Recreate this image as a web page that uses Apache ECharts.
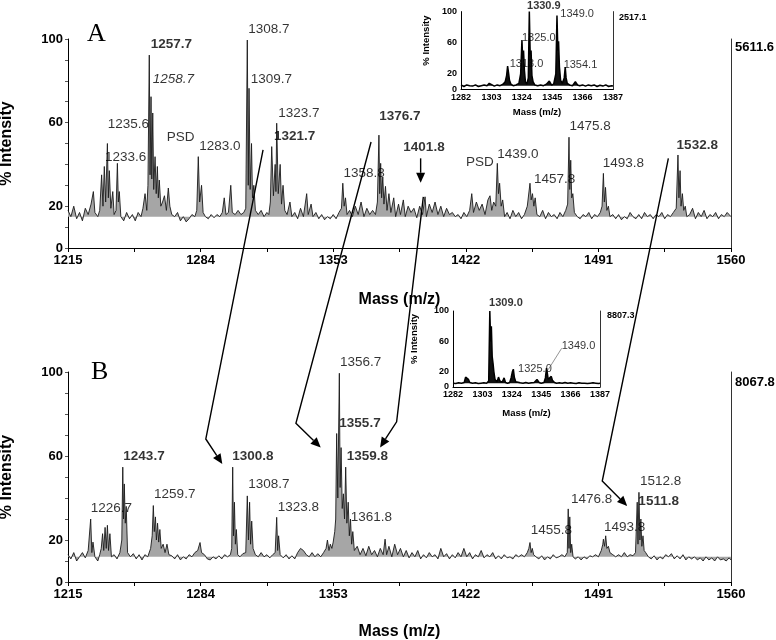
<!DOCTYPE html>
<html><head><meta charset="utf-8">
<script src="https://cdn.jsdelivr.net/npm/echarts@6/dist/echarts.min.js"></script>
<style>html,body{margin:0;padding:0;background:#fff}#c{width:776px;height:640px}</style>
</head><body><div id="c"></div>
<script>
// ---------- tick labels ----------
const mainMassLabels = [1215, 1284, 1353, 1422, 1491, 1560];
const mainMassTicks = [1215, 1249.5, 1284, 1318.5, 1353, 1387.5, 1422, 1456.5, 1491, 1525.5, 1560];
const mainIntLabels = [0, 20, 60, 100];
const mainIntTicks = [0, 10, 20, 30, 40, 50, 60, 70, 80, 90, 100];
const insetMassLabels = [1282, 1303, 1324, 1345, 1366, 1387];
const insetIntLabels = [0, 20, 60, 100];
const totalCountA = '5611.6', totalCountB = '8067.8', totalCountInsetA = '2517.1', totalCountInsetB = '8807.3';
const baselineA = 15, baselineB = 12, baselineInset = 5;

// ---------- spectra [mass, % intensity] ----------
const spectrumA = [
[1215,18],[1216.5,15],[1218,20],[1219.5,14],[1221,17],[1222.5,13],[1224,19],[1225.5,16],[1227,21],[1228.2,27],
[1229,17],[1230.5,15],[1231.5,18],[1232.5,35],[1233.2,20],[1233.9,39],[1234.6,22],[1235.5,50],[1236,24],[1236.5,37],
[1237.3,19],[1238.3,27],[1239,16],[1240,18],[1240.7,40.5],[1241.2,22],[1241.7,27],[1242.5,15],[1244,13],[1245.5,17],
[1247,14],[1248.5,16],[1250,13],[1251.5,17],[1253,15],[1254,19],[1255.1,26],[1256,18],[1256.6,30],[1257.3,92.3],
[1257.7,35],[1258.2,72.4],[1258.6,33],[1259.1,64.6],[1259.6,28],[1260.3,43.7],[1260.9,26],[1261.5,39],[1262,24],[1262.5,32.5],
[1263.3,20],[1264.2,22],[1265.2,25],[1266.2,18],[1267.2,28.7],[1268,20],[1269,16],[1270.5,15],[1272,17],[1273.5,13],
[1275,15],[1276.5,12.5],[1278,14],[1279.5,16],[1281,15],[1282,18],[1282.8,43.7],[1283.5,22],[1284.5,30],[1285.3,17],
[1286.5,15],[1288,14],[1289.5,16],[1291,14.5],[1292.5,16],[1294,15],[1295.3,17],[1296.3,24],[1297.2,16],[1298.5,17],
[1299.7,30],[1300.5,17],[1302,16],[1303.5,18],[1305,16],[1306.5,17],[1307.5,19],[1308.3,99.5],[1308.8,30],[1309.2,76.4],
[1309.8,28],[1310.5,50],[1311,24],[1311.7,30],[1312.5,18],[1314,16],[1315.5,18],[1317,15],[1318.5,17],[1319.5,16],
[1320.3,22],[1321,48.5],[1321.9,25],[1322.8,40],[1323.2,27],[1323.6,59.7],[1324.4,26],[1325.4,40],[1326.1,21],[1326.9,30],
[1327.8,18],[1329,16],[1330.5,22],[1331.5,15],[1333,17],[1334.5,14],[1336,19],[1337.5,15],[1339.2,26],[1340,16],
[1341.5,21],[1342.5,15],[1344,17],[1345.5,14],[1347,16],[1348.5,13.5],[1350,15],[1351.5,14],[1353,16],[1354.5,14],
[1356,17],[1357.3,19],[1358,31],[1358.7,20],[1359.4,24],[1360.2,16],[1361.5,18],[1363,15],[1364.5,20],[1366,16],
[1367.5,22],[1369,15],[1370.5,19],[1372,16],[1373.5,18],[1375,16],[1376,22],[1376.8,54],[1377.2,26],[1377.7,40.5],
[1378.2,24],[1378.8,34],[1379.4,21],[1380.2,29.5],[1381,18],[1382,26],[1383,17],[1384.5,24],[1385.5,15],[1387,21],
[1388,16],[1389.5,23],[1390.5,15],[1392,20],[1393.5,17],[1395,19],[1396.5,14.5],[1398,20],[1399.5,16],[1400.8,24.5],
[1401.5,15],[1403,21],[1404.5,17],[1406,22],[1407.5,16],[1409,20],[1410.5,15],[1412,19],[1413.5,16],[1415,17],
[1416.5,15],[1418,16],[1419.5,14],[1421,17],[1422.5,15],[1424,18],[1425.1,26],[1426,17],[1427.5,22],[1429,18],
[1430.5,21],[1432,16],[1433.5,23],[1434.6,25],[1435.5,18],[1436.5,22],[1437.6,20],[1438.4,40.5],[1439,26],[1439.6,31],
[1440.4,20],[1441.2,23],[1442.2,15],[1443.5,17],[1445,14],[1446.5,18],[1448,15],[1449.5,17],[1451,14],[1452.5,16],
[1454,20],[1455.4,31],[1456,23],[1456.7,26],[1457.4,20],[1458.1,24],[1459,16],[1460.5,15],[1462,18],[1463.5,14],
[1465,17],[1466.5,15],[1468,16],[1469.5,14],[1471,17],[1472.5,15],[1474,18],[1475,21],[1475.7,53],[1476.1,28],
[1476.6,42],[1477.1,24],[1477.7,26],[1478.5,17],[1480,15],[1481.5,14],[1483,16],[1484.5,15],[1486,17],[1487.5,14],
[1489,16],[1490.5,15],[1492,17],[1492.9,20],[1493.6,35.7],[1494.1,22],[1494.7,29],[1495.4,18],[1496.2,20],[1497,15],
[1498.5,16],[1500,14],[1501.5,16],[1503,13.5],[1504.5,15],[1506,14],[1507.5,17],[1509,15],[1510.5,14],[1512,16],
[1513.5,14],[1515,17],[1516.5,15],[1518,16],[1519.5,14],[1521,16],[1522.5,15],[1524,17],[1525.5,14],[1527,16],
[1528.5,15],[1530,17],[1531.5,19],[1532.4,44.5],[1532.9,24],[1533.5,37],[1534,20],[1534.7,26],[1535.4,18],[1536.2,20],
[1537,15],[1538.5,16],[1540,19],[1541.5,14],[1543,17],[1544.5,15],[1546,18],[1547.5,14],[1549,16],[1550.5,15],
[1552,17],[1553.5,14],[1555,16],[1556.5,15],[1558,17],[1559,16],[1560,15]
];
const spectrumB = [
[1215,13],[1216.5,11],[1218,14],[1219.5,10],[1221,12],[1222.5,14],[1224,11.5],[1225.5,15],[1226.8,30],[1227.4,14],
[1228,19],[1229,12],[1230.5,10],[1231.5,13],[1232.3,16],[1233,23],[1233.6,15],[1234.3,26],[1234.9,16],[1235.5,27],
[1236.1,15],[1236.8,23],[1237.6,12],[1239,13],[1240.5,11],[1242,14],[1243,20],[1243.5,54.7],[1243.9,30],[1244.3,46.7],
[1244.8,28],[1245.3,36],[1246,14],[1247.5,12],[1249,13.5],[1250.5,11],[1252,13],[1253.5,10.5],[1255,13],[1256.5,12],
[1258,16],[1258.8,22],[1259.4,36.4],[1259.9,24],[1260.5,31],[1261,20],[1261.6,28],[1262.2,19],[1262.8,25],[1263.5,16],
[1264.5,18],[1265.5,14],[1266.5,18],[1267.5,13],[1269,12.5],[1270.5,11],[1272,13],[1273.5,10.5],[1275,12],[1276.5,11],
[1278,13],[1279.5,12],[1281,14],[1282.5,15],[1283.7,18.8],[1284.5,14],[1286,13],[1287.5,11],[1289,10.5],[1290.5,12],
[1292,11],[1293.5,12.5],[1295,11],[1296.5,13],[1298,12],[1299.5,13],[1300.2,16],[1300.7,54.7],[1301.1,22],[1301.6,38],
[1302.1,18],[1302.6,25],[1303.3,13],[1304.5,12],[1306,13.5],[1307.5,14],[1308.3,41],[1308.9,20],[1309.5,38],[1310,18],
[1310.6,29],[1311.3,16],[1312.5,13],[1314,12],[1315.5,14],[1317,12],[1318.5,13],[1320,11.5],[1321.5,13],[1322.8,14],
[1323.6,30.8],[1324.1,15],[1324.6,22],[1325.4,13],[1327,11.5],[1328.5,13],[1330,11],[1331.5,12.5],[1333,11],[1334.5,14],
[1336,16],[1337.5,15],[1339,13],[1340.5,12],[1342,14],[1343.5,12],[1345,13.5],[1346.5,12],[1348,14],[1349.3,16],
[1350,20],[1350.8,15],[1351.5,18],[1352.3,16],[1353,19],[1353.8,24],[1354.3,30],[1354.8,70.7],[1355.4,40],[1356.2,99.4],
[1356.6,45],[1357.1,64],[1357.7,35],[1358.3,42],[1358.9,30],[1359.5,54.7],[1360.1,28],[1360.8,38],[1361.4,22],[1362,30],
[1362.6,18],[1363.2,24],[1364,15],[1365.5,17],[1367,13],[1368.5,16],[1370,12.5],[1371.5,17],[1373,13],[1374.5,15],
[1376,12],[1377.5,16],[1379,13],[1380,20.4],[1380.8,13],[1382,17],[1383.5,12],[1385,18],[1386.5,13],[1388,16],
[1389.5,12],[1391,15],[1392.5,11.5],[1394,14],[1395.5,12],[1397,15],[1398.5,11],[1400,13],[1401.5,11.5],[1403,14],
[1404.5,12],[1406,13],[1407.5,11],[1409,16],[1410.5,12],[1412,13.5],[1413.5,11],[1415,13],[1416.5,11.5],[1418,14],
[1419.5,12],[1421,16],[1422.5,12],[1424,14],[1425.5,11],[1427,13],[1428.5,12],[1430,15],[1431.5,11.5],[1433,13],
[1434.5,12],[1436,14],[1437.5,11],[1439,12.5],[1440.5,11],[1442,13],[1443.5,11.5],[1445,12],[1446.5,11],[1448,13],
[1449.5,12],[1451,13],[1452.5,12],[1454,14],[1454.8,16],[1455.4,18.8],[1456,14],[1456.6,16],[1457.3,13],[1458.5,12],
[1460,11],[1461.5,12.5],[1463,10.5],[1464.5,12],[1466,11],[1467.5,13],[1469,11.5],[1470.5,12],[1472,13],[1473.5,12],
[1474.8,14],[1475.3,34.8],[1475.7,16],[1476.1,31],[1476.6,14],[1477.1,18],[1477.8,12],[1479,11],[1480.5,12],[1482,10.5],
[1483.5,12],[1485,11],[1486.5,12.5],[1488,12],[1489.5,13],[1491,12],[1492.5,15],[1493.3,18],[1493.6,20.4],[1494.2,17],
[1494.8,22],[1495.4,16],[1496.2,17],[1497,14],[1498.5,13],[1500,12],[1501.5,13],[1503,12],[1504.5,14],[1506,12],
[1507.5,13],[1509,12.5],[1510.3,14],[1511.2,38],[1511.6,18],[1512.1,42.7],[1512.6,20],[1513.1,30],[1513.6,17],[1514.2,22],
[1514.8,15],[1515.6,14],[1517,12],[1518.5,11],[1520,12.5],[1521.5,10.5],[1523,12],[1524.5,11],[1526,13],[1527.5,12],
[1529,13.5],[1530.5,11],[1532,12.5],[1533.5,11],[1535,13],[1536.5,10.5],[1538,12],[1539.5,11],[1541,12],[1542.5,10.5],
[1544,11.5],[1545.5,10],[1547,12],[1548.5,10.5],[1550,11.5],[1551.5,10],[1553,12],[1554.5,10.5],[1556,11],[1557.5,10],
[1559,11.5],[1560,10.5]
];
const spectrumInsetA = [
[1282,6],[1284,4],[1286,6],[1288,5],[1290,4.5],[1292,6],[1294,4],[1296,5],[1298,6],[1300,5],
[1301.5,8],[1302.5,10],[1303.5,6],[1305,4.5],[1307,6],[1309,5],[1311,7],[1312.5,10],[1313.5,18],[1314.2,30],
[1314.8,22],[1315.5,12],[1316.5,7],[1318,5],[1320,6],[1322,8],[1323.2,20],[1324.1,63.6],[1324.6,40],[1325.2,50],
[1325.8,25],[1326.5,10],[1327.5,7],[1328.5,15],[1329.2,100],[1329.8,45],[1330.4,50],[1331,18],[1331.8,10],[1333,6],
[1335,5],[1337,6],[1339,5],[1341,7],[1343,11],[1344.5,6],[1346,7],[1347.5,20],[1348.3,95],[1348.9,50],
[1349.4,62],[1350,29],[1350.8,12],[1352,8],[1353.3,15],[1354,29],[1354.6,15],[1355.4,8],[1357,6],[1359,5],
[1361,10],[1362.5,6],[1364,5],[1366,6],[1368,4.5],[1370,6],[1372,5],[1374,6],[1376,4],[1378,5.5],
[1380,4.5],[1382,6],[1384,4],[1386,5],[1387,4.5]
];
const spectrumInsetB = [
[1282,5],[1284,4.5],[1286,5.5],[1288,5],[1290,6],[1291,13],[1292,15],[1293,10],[1294,6],[1296,5],
[1298,5.5],[1300,4.5],[1302,5],[1304,5.5],[1306,5],[1307.5,8],[1308.3,100],[1308.9,60],[1309.4,80],[1310,40],
[1310.6,31],[1311.2,20],[1312,10],[1313.5,7],[1314.5,13],[1315.5,8],[1317,6],[1318.5,12],[1319.5,6],[1321,5],
[1322.5,6],[1323.5,12],[1324.4,20],[1325.1,23.4],[1325.8,13],[1326.8,7],[1328,5],[1330,5.5],[1332,5],[1334,6],
[1336,5],[1338,5.5],[1340,6],[1342,10],[1343.5,6],[1345,5],[1347,6],[1348,12],[1348.8,25],[1349.4,18],
[1350,10],[1351,8],[1352.2,14],[1353,9],[1354.5,6],[1356,5],[1358,5.5],[1360,5],[1362,6],[1364,5],
[1366,5.5],[1368,5],[1370,4.5],[1372,5.5],[1374,5],[1376,5],[1378,4.5],[1380,5],[1382,5.5],[1384,5],
[1386,4.5],[1387,5]
];

// ---------- peak annotations [text, mass, intensity, style] (anchor = left-middle of text) ----------
const peakLabelsA = [
['1257.7',1258.0,97.5,'b'],['1258.7',1259.1,80.9,'i'],['1308.7',1308.8,104.6,''],['1309.7',1310.1,80.9,''],
['1323.7',1324.4,64.4,''],['1321.7',1322.2,53.6,'b'],['1235.6',1235.7,59.3,''],['1233.6',1234.3,43.2,''],
['PSD',1266.4,53,''],['1283.0',1283.3,48.5,''],['1358.8',1358.3,35.7,''],['1376.7',1377.0,62.8,'b'],
['1401.8',1389.5,48,'b'],['PSD',1422.1,40.8,''],['1439.0',1438.4,45,''],['1457.8',1457.5,33,''],
['1475.8',1475.9,58,''],['1493.8',1493.2,40.5,''],['1532.8',1531.7,49.3,'b']
];
const peakLabelsB = [
['1226.7',1226.8,35.1,''],['1243.7',1243.8,60.1,'b'],['1259.7',1259.8,41.9,''],['1300.8',1300.5,60.1,'b'],
['1308.7',1308.8,46.7,''],['1323.8',1324.1,35.6,''],['1356.7',1356.5,104.4,''],['1355.7',1356.2,75.6,'b'],
['1359.8',1360.0,60.1,'b'],['1361.8',1362.1,30.6,''],['1455.8',1455.8,24.4,''],['1476.8',1476.7,39.5,''],
['1493.8',1493.9,26,''],['1512.8',1512.6,47.8,''],['1511.8',1511.8,38.2,'b']
];
const peakLabelsInsetA = [
['1330.9',1327.6,107.2,'b'],['1349.0',1350.6,96.9,''],['1325.0',1324.1,65.8,''],['1313.0',1315.6,32.8,''],['1354.1',1352.9,31.5,'']
];
const peakLabelsInsetB = [
['1309.0',1307.8,110.1,'b'],['1349.0',1359.6,53.9,''],['1325.0',1328.5,23.3,'']
];
// arrows linking panels: list of [panel, mass, intensity]
const arrowPaths = [
[['A',1316.5,46.9],['B',1286.7,68.1],['B',1295.3,56.2]],
[['A',1372.7,50.7],['B',1333.6,75.6],['B',1346.5,64.1]],
[['A',1399.9,24.5],['B',1386.0,76.3],['B',1377.4,64.1]],
[['A',1527.4,42.9],['B',1493.0,48.1],['B',1506.0,36.2]],
[['A',1398.5,42.9],['A',1398.5,31.2]]
];
const leaderInsetB = [['iB',1359.6,50.9],['iB',1350.0,22.8]];

const FONT = '"Liberation Sans", Arial, Helvetica, sans-serif';
const chart = echarts.init(document.getElementById('c'), null, {renderer:'canvas'});
const plain = v => String(v);

function mainX(gi, nameGap){
  return {type:'value', gridIndex:gi, min:1215, max:1560,
    axisLine:{lineStyle:{color:'#000', width:1}},
    axisTick:{show:true, customValues:mainMassTicks, length:4, lineStyle:{color:'#000'}},
    axisLabel:{customValues:mainMassLabels, formatter:plain, fontWeight:'bold', fontSize:13, color:'#000', margin:6, fontFamily:FONT},
    splitLine:{show:false},
    name:'Mass (m/z)', nameLocation:'middle', nameGap:nameGap,
    nameTextStyle:{fontWeight:'bold', fontSize:16, color:'#000', fontFamily:FONT}};
}
function mainY(gi){
  return {type:'value', gridIndex:gi, min:0, max:100,
    axisLine:{show:true, lineStyle:{color:'#000', width:1}},
    axisTick:{show:true, customValues:mainIntTicks, length:3, lineStyle:{color:'#555'}},
    axisLabel:{customValues:mainIntLabels, formatter:plain, fontWeight:'bold', fontSize:13, color:'#000', margin:5, fontFamily:FONT},
    splitLine:{show:false},
    name:'% Intensity', nameLocation:'middle', nameGap:53, nameRotate:90,
    nameTextStyle:{fontWeight:'bold', fontSize:16, color:'#000', fontFamily:FONT}};
}
function insetX(gi, nameGap){
  return {type:'value', gridIndex:gi, min:1282, max:1387,
    axisLine:{lineStyle:{color:'#000', width:1}},
    axisTick:{show:false},
    axisLabel:{customValues:insetMassLabels, formatter:plain, fontWeight:'bold', fontSize:9, color:'#000', margin:3, fontFamily:FONT},
    splitLine:{show:false},
    name:'Mass (m/z)', nameLocation:'middle', nameGap:nameGap,
    nameTextStyle:{fontWeight:'bold', fontSize:9.5, color:'#000', fontFamily:FONT}};
}
function insetY(gi, nameGap){
  return {type:'value', gridIndex:gi, min:0, max:100,
    axisLine:{show:true, lineStyle:{color:'#000', width:1}},
    axisTick:{show:false},
    axisLabel:{customValues:insetIntLabels, formatter:plain, fontWeight:'bold', fontSize:9, color:'#000', margin:4, fontFamily:FONT},
    splitLine:{show:false},
    name:'% Intensity', nameLocation:'middle', nameGap:nameGap, nameRotate:90,
    nameTextStyle:{fontWeight:'bold', fontSize:9.5, color:'#000', fontFamily:FONT, padding:[0,0,0,20]}};
}
function rightY(gi, label, gap, fs, pad){
  return {type:'value', gridIndex:gi, min:0, max:100, position:'right',
    axisLine:{show:true, lineStyle:{color:'#333', width:1}},
    axisTick:{show:false}, axisLabel:{show:false}, splitLine:{show:false},
    name:label, nameLocation:'end', nameGap:gap,
    nameTextStyle:{align:'left', verticalAlign:'middle', padding:[0,0,0,pad], fontWeight:'bold', fontSize:fs, color:'#000', fontFamily:FONT}};
}
function labelSeries(xi, yi, list, fs){
  return {type:'scatter', xAxisIndex:xi, yAxisIndex:yi, symbolSize:0, clip:false, silent:true, z:5,
    data:list.map(d => ({name:d[0], value:[d[1], d[2]],
      label:{fontWeight: d[3]==='b' ? 'bold' : 'normal', fontStyle: d[3]==='i' ? 'italic' : 'normal'}})),
    label:{show:true, position:'right', distance:0, formatter:'{b}', color:'#000', fontSize:fs, fontFamily:FONT}};
}
function lineSeries(xi, yi, data, color, width, base, fill){
  const s = {type:'line', xAxisIndex:xi, yAxisIndex:yi, data:data, showSymbol:false, symbol:'none',
    lineStyle:{color:color, width:width}, silent:true, z:3};
  if (base !== undefined) s.areaStyle = {color:fill, opacity:1, origin:base};
  return s;
}

chart.setOption({
  animation:false,
  backgroundColor:'#fff',
  grid:[
    {left:68, top:39, width:663, height:209, outerBoundsMode:'none', containLabel:false},
    {left:68, top:372, width:663, height:210, outerBoundsMode:'none', containLabel:false},
    {left:461, top:11.6, width:152, height:78, outerBoundsMode:'none', containLabel:false},
    {left:453, top:311, width:147, height:76, outerBoundsMode:'none', containLabel:false}
  ],
  xAxis:[mainX(0,44), mainX(1,42), insetX(2,18), insetX(3,21)],
  yAxis:[mainY(0), mainY(1), insetY(2,30), insetY(3,34),
    rightY(0,totalCountA,-8,13,4), rightY(1,totalCountB,-10,13,4),
    rightY(2,totalCountInsetA,-6,9,6), rightY(3,totalCountInsetB,-5,9,7)],
  series:[
    lineSeries(0,0,spectrumA,'#1a1a1a',0.9,baselineA,'#a6a6a6'),
    lineSeries(1,1,spectrumB,'#1a1a1a',0.9,baselineB,'#a6a6a6'),
    lineSeries(2,2,spectrumInsetA,'#000',1.5,baselineInset,'#111'),
    lineSeries(3,3,spectrumInsetB,'#000',1.5,baselineInset,'#111'),
    labelSeries(0,0,peakLabelsA,13.5),
    labelSeries(1,1,peakLabelsB,13.5),
    labelSeries(2,2,peakLabelsInsetA,11),
    labelSeries(3,3,peakLabelsInsetB,11)
  ]
});

const axisIdx = {A:[0,0], B:[1,1], iA:[2,2], iB:[3,3]};
function px(p){ const a = axisIdx[p[0]]; return chart.convertToPixel({xAxisIndex:a[0], yAxisIndex:a[1]}, [p[1], p[2]]); }
const graphics = [];
arrowPaths.forEach(path => {
  const pts = path.map(px);
  const tip = pts[pts.length-1], prev = pts[pts.length-2];
  const dx = tip[0]-prev[0], dy = tip[1]-prev[1], len = Math.hypot(dx,dy);
  const ux = dx/len, uy = dy/len, L = 10, W = 4.5;
  const base = [tip[0]-ux*L, tip[1]-uy*L];
  const linePts = pts.slice(0,-1).concat([base]);
  graphics.push({type:'polyline', shape:{points:linePts}, style:{stroke:'#000', lineWidth:1.4, fill:null}, z:10});
  graphics.push({type:'polygon', shape:{points:[tip,[base[0]-uy*W, base[1]+ux*W],[base[0]+uy*W, base[1]-ux*W]]}, style:{fill:'#000'}, z:10});
});
graphics.push({type:'polyline', shape:{points:leaderInsetB.map(px)}, style:{stroke:'#666', lineWidth:0.7, fill:null}, z:10});
graphics.push({type:'text', left:87, top:21, style:{text:'A', fontSize:26, fontFamily:'"Liberation Serif", "DejaVu Serif", serif', fill:'#000'}, z:10});
graphics.push({type:'text', left:91, top:359, style:{text:'B', fontSize:26, fontFamily:'"Liberation Serif", "DejaVu Serif", serif', fill:'#000'}, z:10});
chart.setOption({graphic:graphics});
</script></body></html>
